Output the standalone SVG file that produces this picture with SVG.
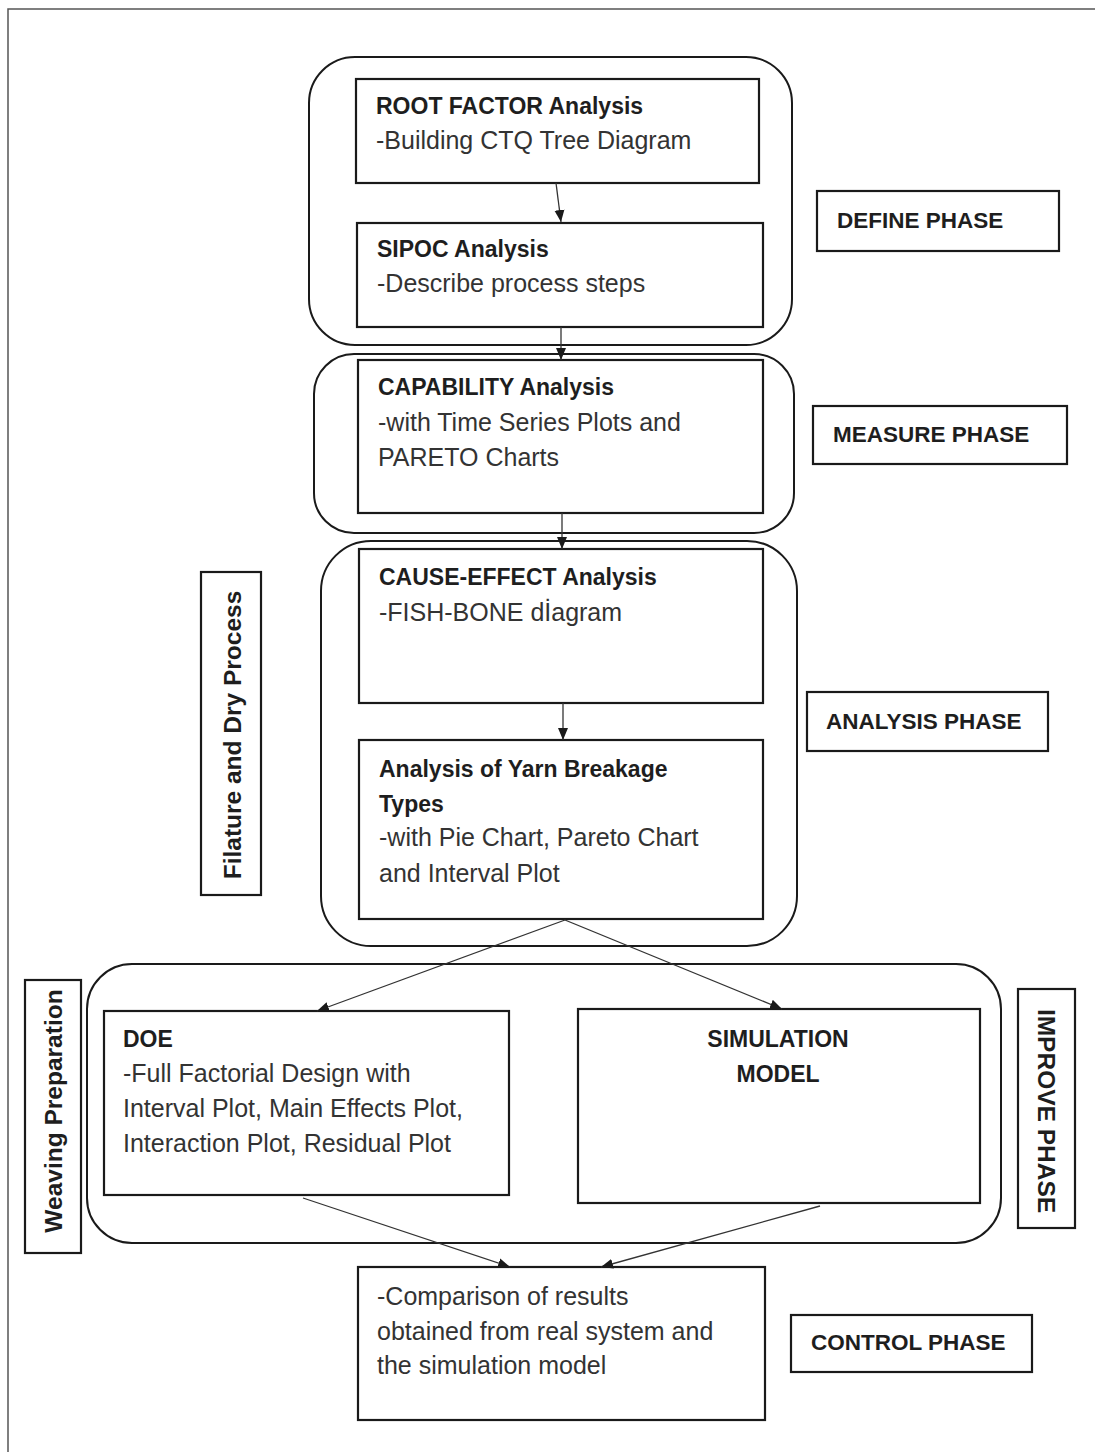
<svg xmlns="http://www.w3.org/2000/svg" width="1100" height="1452" viewBox="0 0 1100 1452">
<style>
.bg{fill:#ffffff}
.frame{fill:none;stroke:#555;stroke-width:1.5}
.grp{fill:none;stroke:#1a1a1a;stroke-width:2}
.box{fill:#ffffff;stroke:#1a1a1a;stroke-width:2.2}
.lbl{fill:#ffffff;stroke:#1a1a1a;stroke-width:2.2}
.b{font-family:"Liberation Sans",Arial,sans-serif;font-weight:bold;font-size:23px;fill:#1e1e1e}
.r{font-family:"Liberation Sans",Arial,sans-serif;font-size:25px;fill:#333}
.ph{font-family:"Liberation Sans",Arial,sans-serif;font-weight:bold;font-size:22.5px;fill:#1e1e1e}
.vt{font-family:"Liberation Sans",Arial,sans-serif;font-weight:bold;font-size:24.5px;fill:#1e1e1e}
.con{fill:none;stroke:#333;stroke-width:1.3;marker-end:url(#ah)}
</style>
<defs>
<marker id="ah" markerUnits="userSpaceOnUse" markerWidth="13" markerHeight="11" refX="12" refY="5.5" orient="auto">
<path d="M0,0.5 L12,5.5 L0,10.5 z" fill="#1a1a1a"/>
</marker>
</defs>
<rect class="bg" x="0" y="0" width="1100" height="1452"/>
<path class="frame" d="M8,1452 L8,9 L1095,9"/>

<g id="define-group"><rect class="grp" x="309" y="57" width="483" height="288" rx="46" ry="46"/></g>
<g id="measure-group"><rect class="grp" x="314" y="354" width="480" height="179" rx="40" ry="40"/></g>
<g id="analysis-group"><rect class="grp" x="321" y="541" width="476" height="405" rx="50" ry="50"/></g>
<g id="improve-group"><rect class="grp" x="87" y="964" width="914" height="279" rx="45" ry="45"/></g>

<g id="root-factor">
<rect class="box" x="356" y="79" width="403" height="104"/>
<text class="b" x="376" y="114">ROOT FACTOR Analysis</text>
<text class="r" x="376" y="149">-Building CTQ Tree Diagram</text>
</g>
<g id="sipoc">
<rect class="box" x="357" y="223" width="406" height="104"/>
<text class="b" x="377" y="257">SIPOC Analysis</text>
<text class="r" x="377" y="292">-Describe process steps</text>
</g>
<g id="capability">
<rect class="box" x="358" y="360" width="405" height="153"/>
<text class="b" x="378" y="395">CAPABILITY Analysis</text>
<text class="r" x="378" y="431">-with Time Series Plots and</text>
<text class="r" x="378" y="466">PARETO Charts</text>
</g>
<g id="cause-effect">
<rect class="box" x="359" y="549" width="404" height="154"/>
<text class="b" x="379" y="585">CAUSE-EFFECT Analysis</text>
<text class="r" x="379" y="621">-FISH-BONE dİagram</text>
</g>
<g id="yarn-breakage">
<rect class="box" x="359" y="740" width="404" height="179"/>
<text class="b" x="379" y="777">Analysis of Yarn Breakage</text>
<text class="b" x="379" y="812">Types</text>
<text class="r" x="379" y="846">-with Pie Chart, Pareto Chart</text>
<text class="r" x="379" y="882">and Interval Plot</text>
</g>
<g id="doe">
<rect class="box" x="104" y="1011" width="405" height="184"/>
<text class="b" x="123" y="1047">DOE</text>
<text class="r" x="123" y="1082">-Full Factorial Design with</text>
<text class="r" x="123" y="1117">Interval Plot, Main Effects Plot,</text>
<text class="r" x="123" y="1152">Interaction Plot, Residual Plot</text>
</g>
<g id="simulation">
<rect class="box" x="578" y="1009" width="402" height="194"/>
<text class="b" x="778" y="1047" text-anchor="middle">SIMULATION</text>
<text class="b" x="778" y="1082" text-anchor="middle">MODEL</text>
</g>
<g id="comparison">
<rect class="box" x="358" y="1267" width="407" height="153"/>
<text class="r" x="377" y="1305">-Comparison of results</text>
<text class="r" x="377" y="1340">obtained from real system and</text>
<text class="r" x="377" y="1374">the simulation model</text>
</g>

<g id="define-phase">
<rect class="lbl" x="817" y="191" width="242" height="60"/>
<text class="ph" x="837" y="228">DEFINE PHASE</text>
</g>
<g id="measure-phase">
<rect class="lbl" x="813" y="406" width="254" height="58"/>
<text class="ph" x="833" y="442">MEASURE PHASE</text>
</g>
<g id="analysis-phase">
<rect class="lbl" x="807" y="692" width="241" height="59"/>
<text class="ph" x="826" y="729">ANALYSIS PHASE</text>
</g>
<g id="improve-phase">
<rect class="lbl" x="1018" y="989" width="57" height="239"/>
<text class="vt" transform="translate(1038,1111) rotate(90)" text-anchor="middle">IMPROVE PHASE</text>
</g>
<g id="control-phase">
<rect class="lbl" x="791" y="1315" width="241" height="57"/>
<text class="ph" x="811" y="1350">CONTROL PHASE</text>
</g>
<g id="filature">
<rect class="lbl" x="201" y="572" width="60" height="323"/>
<text class="vt" transform="translate(241,735) rotate(-90)" text-anchor="middle">Filature and Dry Process</text>
</g>
<g id="weaving">
<rect class="lbl" x="25" y="980" width="56" height="273"/>
<text class="vt" transform="translate(62,1111) rotate(-90)" text-anchor="middle">Weaving Preparation</text>
</g>

<g id="connectors">
<line class="con" x1="556" y1="183" x2="561" y2="222"/>
<line class="con" x1="561" y1="327" x2="561" y2="360"/>
<line class="con" x1="562" y1="513" x2="562" y2="549"/>
<line class="con" x1="563" y1="703" x2="563" y2="740"/>
<line class="con" x1="565" y1="920" x2="317" y2="1011"/>
<line class="con" x1="565" y1="920" x2="782" y2="1009"/>
<line class="con" x1="303" y1="1198" x2="510" y2="1267"/>
<line class="con" x1="820" y1="1206" x2="601" y2="1267"/>
</g>
</svg>
